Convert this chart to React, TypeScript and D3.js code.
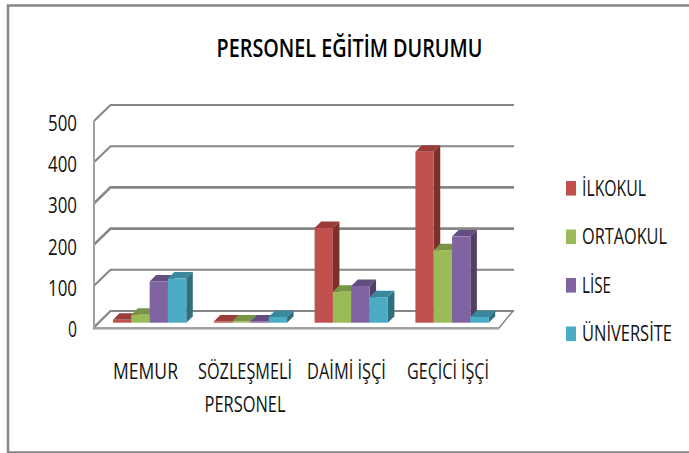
import React from "react";
import * as d3 from "d3";

const categories = [["MEMUR"], ["SÖZLEŞMELİ", "PERSONEL"], ["DAİMİ İŞÇİ"], ["GEÇİCİ İŞÇİ"]];
const categoryWidths = [[65], [94, 81], [79], [82]];
const categoryCenters = [145.5, 245, 346.5, 448];
const seriesNames = ["İLKOKUL", "ORTAOKUL", "LİSE", "ÜNİVERSİTE"];
const seriesNameWidths = [64, 85, 29, 90];
const ilkokul = [7, 3, 230, 415];
const ortaokul = [19, 3, 75, 176];
const lise = [100, 3, 89, 209];
const universite = [107, 14, 62, 14];
const seriesValues = [ilkokul, ortaokul, lise, universite];
const yTicks = [0, 100, 200, 300, 400, 500];
const frontColors = ["#c0504d", "#9bbb59", "#8064a2", "#4bacc6"];
const topColors = ["#983d3a", "#7a9446", "#644e80", "#3a889d"];
const sideColors = ["#7b302e", "#62773a", "#513f68", "#2f6e7f"];

const FONT = "'Open Sans',sans-serif";
const DX = 16.5;
const DY = 16;
const BX = 6.5;
const BY = 6.5;

const measureCtx = document.createElement("canvas").getContext("2d")!;

// Text squeezed horizontally to a target width (the reference uses a condensed face).
function Squeezed(props: {
  x: number; y: number; width: number; size: number; weight?: number;
  anchor: "start" | "middle" | "end"; fill: string; children: string;
}) {
  const { x, y, width, size, weight = 400, anchor, fill, children } = props;
  measureCtx.font = `${weight} ${size}px 'Open Sans', sans-serif`;
  const sx = width / measureCtx.measureText(children).width;
  return (
    <text transform={`translate(${x},${y}) scale(${sx},1)`} textAnchor={anchor}
      fontSize={size} fontWeight={weight} fill={fill}>{children}</text>
  );
}

export default function App() {
  const y = d3.scaleLinear().domain([0, 500]).range([327, 121]);
  const barY = d3.scaleLinear().domain([0, 500]).range([322.7, 116.7]);
  const x0 = d3.scaleBand<number>().domain([0, 1, 2, 3]).range([94, 507.7]).paddingInner(0.273).paddingOuter(0.1885);
  const x1 = d3.scaleBand<number>().domain([0, 1, 2, 3]).range([0, x0.bandwidth()]);
  const grid = "#868686";
  return (
    <svg width={689} height={453} style={{ position: "absolute", left: 0, top: 0, background: "#fff" }} fontFamily={FONT}>
      <rect x={8} y={5.5} width={700} height={447} fill="none" stroke="#868686" strokeWidth={2.5} />
      <Squeezed x={349.5} y={57} width={266} size={26} weight={600} anchor="middle" fill="#000">PERSONEL EĞİTİM DURUMU</Squeezed>
      <path
        d={`M94,${y(0) + 1}L${94 + DX},${y(0) - DY}H513L499,${y(0) + 1}Z`}
        fill="#fff" stroke={grid} strokeWidth={1.5}
      />
      {yTicks.map((t, i) => (
        <path key={t}
          d={`M94,${y(t)}L${94 + DX},${y(t) - DY}H514`}
          fill="none" stroke={grid} strokeWidth={i === 2 || i === 3 ? 2.6 : 2} />
      ))}
      <line x1={94} x2={94} y1={y(500)} y2={y(0) + 1} stroke="#a0a0a0" strokeWidth={2} />
      <line x1={93} x2={499} y1={y(0) + 1.5} y2={y(0) + 1.5} stroke="#a0a0a0" strokeWidth={2} />
      {yTicks.map((t) => (
        <Squeezed key={t} x={77} y={y(t) + 10} width={t === 0 ? 9 : 29} size={22} anchor="end" fill="#111">{String(t)}</Squeezed>
      ))}
      {categories.map((_, c) => (
        <g key={c}>
          {seriesValues.map((vals, s) => {
            const xa = x0(c)! + x1(s)!;
            const w = x1.bandwidth();
            const top = barY(vals[c]);
            const base = barY(0);
            return (
              <g key={s}>
                <path d={`M${xa},${top}l${BX},${-BY}h${w}l${-BX},${BY}Z`} fill={topColors[s]} />
                <path d={`M${xa + w},${top}l${BX},${-BY}V${base - BY}l${-BX},${BY}Z`} fill={sideColors[s]} />
                <rect x={xa} y={top} width={w} height={base - top} fill={frontColors[s]} />
              </g>
            );
          })}
        </g>
      ))}
      {categories.map((lines, c) =>
        lines.map((l, i) => (
          <Squeezed key={l} x={categoryCenters[c]} y={379 + i * 32.7} width={categoryWidths[c][i]} size={21} anchor="middle" fill="#111">{l}</Squeezed>
        ))
      )}
      {seriesNames.map((n, i) => {
        const ly = 188.3 + i * 48.5;
        return (
          <g key={n}>
            <rect x={566} y={ly - 7.3} width={10} height={14.6} fill={frontColors[i]} />
            <Squeezed x={582} y={ly + 7.5} width={seriesNameWidths[i]} size={21} anchor="start" fill="#111">{n}</Squeezed>
          </g>
        );
      })}
    </svg>
  );
}
